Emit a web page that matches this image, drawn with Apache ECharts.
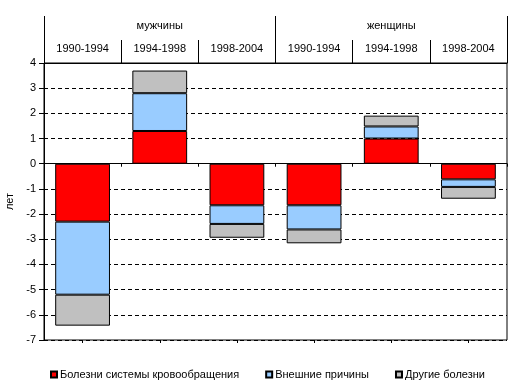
<!DOCTYPE html>
<html><head><meta charset="utf-8">
<script src="https://cdn.jsdelivr.net/npm/echarts@6/dist/echarts.min.js"></script>
<style>html,body{margin:0;padding:0;background:#fff}#c{width:522px;height:390px}</style>
</head><body><div id="c"></div>
<script>
const periods = ['1990-1994','1994-1998','1998-2004','1990-1994','1994-1998','1998-2004'];
const groups = ['мужчины','женщины'];
const seriesNames = ['Болезни системы кровообращения','Внешние причины','Другие болезни'];
const circulatory = [-2.3, 1.3, -1.65, -1.65, 1.0, -0.62];
const external = [-2.9, 1.5, -0.74, -0.96, 0.48, -0.3];
const other = [-1.23, 0.9, -0.55, -0.55, 0.43, -0.47];
const colors = ['#FF0000','#99CCFF','#C0C0C0'];
const yMin = -7, yMax = 4, yStep = 1;

const font = 'Liberation Sans, Arial, sans-serif';
const chart = echarts.init(document.getElementById('c'));
const vals = [circulatory, external, other];
chart.setOption({
  animation: false,
  textStyle: {fontFamily: font},
  grid: {left: 44, right: 15, top: 63, bottom: 50, show: true, borderColor: '#000', borderWidth: 1,
         containLabel: false, outerBoundsMode: 'none'},
  legend: {
    bottom: 5, left: 45, itemWidth: 6, itemHeight: 6, itemGap: 26, icon: 'rect',
    textStyle: {fontFamily: font, fontSize: 11, color: '#000', padding: [0,0,0,-2]},
    data: seriesNames
  },
  xAxis: [
    {type: 'category', data: periods, position: 'top',
     axisLine: {show: true, onZero: false, lineStyle: {color: '#000'}},
     axisTick: {show: true, interval: 0, length: 23, lineStyle: {color: '#000'}},
     axisLabel: {interval: 0, margin: 9, fontSize: 11, color: '#000', fontFamily: font},
     splitLine: {show: false}},
    {type: 'category', data: groups, position: 'top',
     axisLine: {show: false, onZero: false},
     axisTick: {show: true, interval: 0, length: 47, lineStyle: {color: '#000'}},
     axisLabel: {interval: 0, margin: 32, fontSize: 11, color: '#000', fontFamily: font},
     splitLine: {show: false}},
    {type: 'category', data: periods, position: 'bottom',
     axisLine: {show: true, onZero: true, lineStyle: {color: '#000'}},
     axisTick: {show: true, interval: 0, length: 3, lineStyle: {color: '#000'}},
     axisLabel: {show: false}, splitLine: {show: false}},
    {type: 'category', data: periods, position: 'bottom',
     axisLine: {show: false, onZero: true},
     axisTick: {show: true, interval: 0, alignWithLabel: true, length: 3, lineStyle: {color: '#000'}},
     axisLabel: {show: false}, splitLine: {show: false}}
  ],
  yAxis: {
    type: 'value', min: yMin, max: yMax, interval: yStep,
    name: 'лет', nameLocation: 'middle', nameGap: 26, nameRotate: 90,
    nameTextStyle: {fontSize: 11, color: '#000', fontFamily: font},
    axisLine: {show: true, lineStyle: {color: '#000'}},
    axisTick: {show: true, length: 5, lineStyle: {color: '#000'}},
    axisLabel: {fontSize: 11, color: '#000', margin: 8, fontFamily: font},
    splitLine: {show: true, lineStyle: {color: '#000', type: [4, 3], width: 1}}
  },
  series: seriesNames.map((n, i) => ({
    name: n, type: 'bar', stack: 'total', xAxisIndex: 0,
    barWidth: '71%', data: vals[i],
    itemStyle: {color: colors[i], borderColor: '#000', borderWidth: 1}
  }))
});
</script></body></html>
